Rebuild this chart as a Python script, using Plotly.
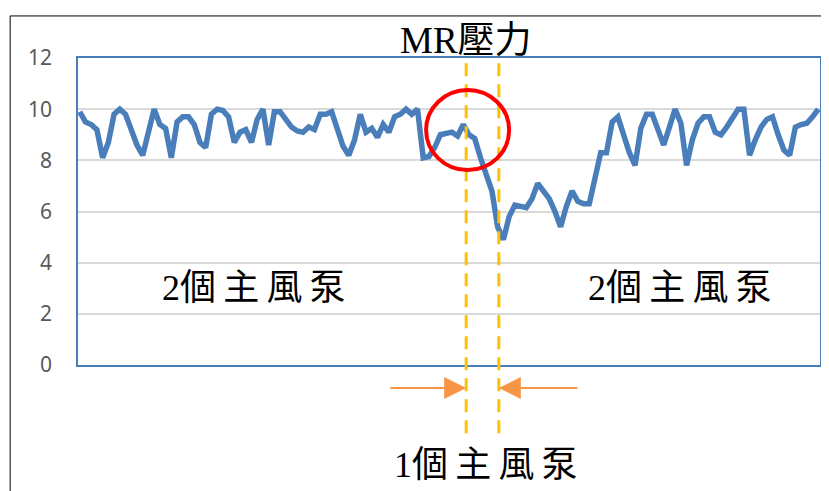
import plotly.graph_objects as go

# MR pressure samples (one per time step)
mr_pressure = [
    9.9, 9.5, 9.4, 9.2, 8.1, 8.7, 9.8, 10.0, 9.8, 9.2,
    8.6, 8.2, 9.1, 10.0, 9.4, 9.25, 8.1, 9.5, 9.7, 9.7,
    9.4, 8.7, 8.5, 9.8, 10.0, 9.95, 9.7, 8.7, 9.1, 9.2,
    8.7, 9.6, 10.0, 8.6, 9.9, 9.9, 9.6, 9.3, 9.15, 9.1,
    9.3, 9.2, 9.8, 9.8, 9.9, 9.2, 8.55, 8.2, 8.8, 9.8,
    9.1, 9.25, 8.9, 9.4, 9.1, 9.7, 9.8, 10.0, 9.8, 10.0,
    8.1, 8.15, 8.5, 9.0, 9.05, 9.1, 8.95, 9.4, 9.0, 8.85,
    8.1, 7.4, 6.8, 5.4, 4.9, 5.8, 6.25, 6.2, 6.15, 6.5,
    7.1, 6.8, 6.5, 6.0, 5.4, 6.2, 6.8, 6.4, 6.3, 6.3,
    7.3, 8.3, 8.3, 9.5, 9.7, 9.0, 8.3, 7.8, 9.25, 9.8,
    9.8, 9.2, 8.6, 9.3, 10.0, 9.45, 7.8, 8.8, 9.45, 9.7,
    9.7, 9.1, 9.0, 9.3, 9.7, 10.0, 10.0, 8.2, 8.8, 9.3,
    9.6, 9.7, 9.0, 8.4, 8.2, 9.3, 9.4, 9.45, 9.7, 10.0,
]
steps = list(range(len(mr_pressure)))
y_ticks = [0, 2, 4, 6, 8, 10, 12]

# one-pump window (time steps) and labels
one_pump_start = 67.5
one_pump_end = 73.2
title_text = "MR壓力"
two_pumps_text = "2個\u2009主\u2009風\u2009泵"
one_pump_text = "1個\u2009主\u2009風\u2009泵"

blue = "#4a7ebb"
gold = "#ffc000"
orange = "#f79646"
serif = "Liberation Serif, Noto Sans CJK TC, serif"

fig = go.Figure()
fig.add_trace(
    go.Scatter(
        x=steps,
        y=mr_pressure,
        mode="lines",
        line=dict(color=blue, width=5.5),
        showlegend=False,
        hoverinfo="skip",
    )
)

shapes = []
# outer frame
shapes.append(
    dict(type="rect", xref="paper", yref="paper", x0=-0.0914, x1=1.008,
         y0=-0.5, y1=1.137, line=dict(color="black", width=1))
)
# dashed markers of the switch
for xv in [one_pump_start, one_pump_end]:
    shapes.append(
        dict(type="line", xref="x", yref="paper", x0=xv, x1=xv, y0=-0.222, y1=1.0,
             line=dict(color=gold, width=3, dash="13px,8px"))
    )
# red circle
shapes.append(
    dict(type="circle", xref="x", yref="y", x0=60.5, x1=75.0, y0=7.62, y1=10.75,
         line=dict(color="#ff0000", width=4))
)

txt_font = dict(family=serif, size=36, color="black")
annotations = [
    dict(text=title_text, xref="x", yref="paper", x=one_pump_start, y=1.058,
         xanchor="center", yanchor="middle", showarrow=False,
         font=dict(family=serif, size=37, color="black")),
    dict(text=two_pumps_text, xref="x", yref="y", x=30.5, y=3.0,
         xanchor="center", yanchor="middle", showarrow=False, font=txt_font),
    dict(text=two_pumps_text, xref="x", yref="y", x=104.9, y=3.0,
         xanchor="center", yanchor="middle", showarrow=False, font=txt_font),
    dict(text=one_pump_text, xref="x", yref="paper", x=71, y=-0.326,
         xanchor="center", yanchor="middle", showarrow=False, font=txt_font),
    # arrows pointing at the window
    dict(text="", xref="x", yref="paper", x=one_pump_start, y=-0.075,
         axref="x", ayref="pixel", ax=54.0, ay=0,
         showarrow=True, arrowhead=2, arrowsize=2.2, arrowwidth=2, arrowcolor=orange),
    dict(text="", xref="x", yref="paper", x=one_pump_end, y=-0.075,
         axref="x", ayref="pixel", ax=87.2, ay=0,
         showarrow=True, arrowhead=2, arrowsize=2.2, arrowwidth=2, arrowcolor=orange),
]

# the page adds an 8px body margin, so the figure is 8px smaller each way
fig.update_layout(
    width=821,
    height=483,
    margin=dict(l=70, r=7, t=50, b=126),
    paper_bgcolor="white",
    plot_bgcolor="white",
    shapes=shapes,
    annotations=annotations,
    xaxis=dict(
        range=[-0.3, len(mr_pressure) - 0.7],
        showticklabels=False,
        showgrid=False,
        zeroline=False,
        showline=True,
        mirror=True,
        linecolor=blue,
        linewidth=1.5,
    ),
    yaxis=dict(
        range=[0, 12],
        tickvals=y_ticks,
        showgrid=True,
        gridcolor="#d9d9d9",
        gridwidth=1.5,
        zeroline=False,
        showline=True,
        mirror=True,
        linecolor=blue,
        linewidth=1.5,
        ticklabelstandoff=20,
        tickfont=dict(family="Noto Sans, sans-serif", size=21, color="#595959"),
    ),
)

fig.write_html("out.html")
